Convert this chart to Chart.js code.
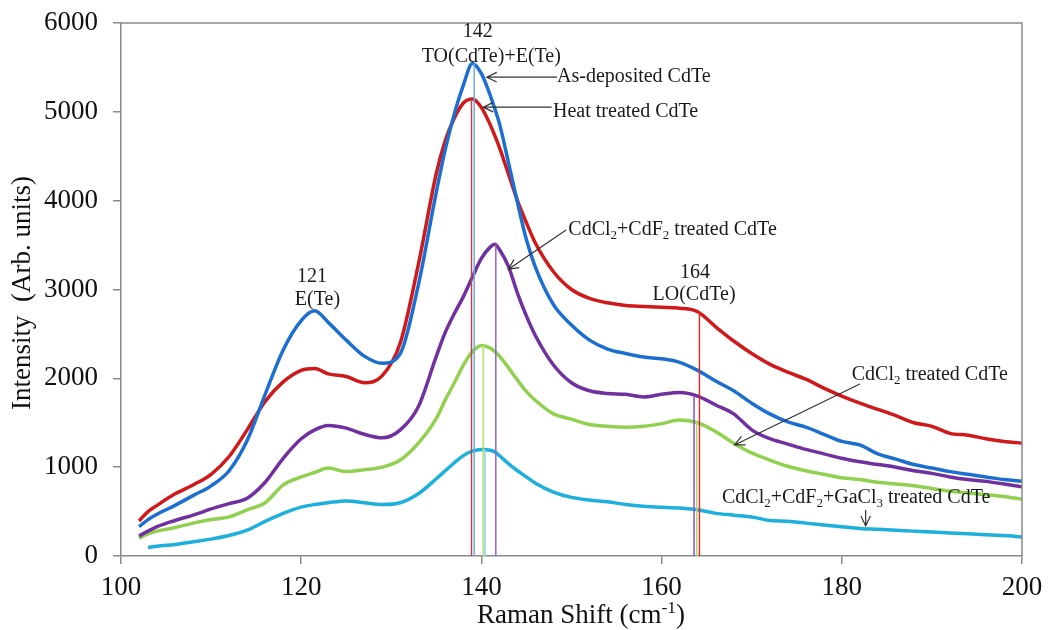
<!DOCTYPE html>
<html>
<head>
<meta charset="utf-8">
<script src="https://cdn.jsdelivr.net/npm/chart.js"></script>
<style>
  html, body { margin: 0; padding: 0; background: #fff; }
  #wrap { width: 1048px; height: 630px; }
</style>
</head>
<body>
<div id="wrap"><canvas id="raman" width="1048" height="630"></canvas></div>
<script>
// Raman spectra of CdTe films

const shift = [102, 103, 104, 106, 108, 110, 112, 114, 116, 118, 120, 121.5, 123, 125, 127, 129, 131, 133, 135, 136,
  137, 138, 139, 140, 141, 141.5, 142, 143, 144, 145, 146, 148, 150, 152, 154, 156, 158, 160, 162, 164,
  166, 168, 170, 172, 174, 176, 178, 180, 182, 184, 186, 188, 190, 192, 194, 196, 198, 200];

const asDeposited = [330, 410, 470, 570, 680, 790, 960, 1300, 1820, 2320, 2650, 2760, 2630, 2430, 2250, 2170, 2280, 3050, 4100, 4580,
  4980, 5300, 5545, 5430, 5180, 5030, 4870, 4430, 3980, 3560, 3250, 2830, 2600, 2430, 2330, 2280, 2240, 2220, 2180, 2090,
  1970, 1860, 1720, 1600, 1510, 1450, 1370, 1290, 1250, 1150, 1090, 1030, 990, 950, 920, 890, 860, 840];

const heatTreated = [395, 500, 570, 700, 800, 920, 1120, 1420, 1740, 1960, 2090, 2110, 2050, 2020, 1950, 2030, 2400, 3280, 4310, 4680,
  4930, 5100, 5145, 5050, 4850, 4730, 4600, 4300, 4000, 3750, 3520, 3200, 3000, 2900, 2850, 2820, 2810, 2800, 2790, 2750,
  2580, 2420, 2280, 2160, 2070, 1990, 1890, 1800, 1720, 1650, 1580, 1500, 1460, 1380, 1360, 1320, 1290, 1270];

const cdcl2Cdf2 = [225, 280, 330, 400, 460, 530, 590, 650, 830, 1100, 1320, 1420, 1470, 1440, 1370, 1330, 1420, 1680, 2250, 2520,
  2730, 2920, 3140, 3350, 3480, 3510, 3450, 3260, 2960, 2700, 2480, 2150, 1950, 1860, 1830, 1820, 1790, 1820, 1840, 1800,
  1700, 1600, 1420, 1320, 1260, 1200, 1150, 1100, 1060, 1030, 1000, 960, 930, 890, 860, 840, 810, 780];

const cdcl2 = [200, 250, 280, 320, 370, 410, 440, 520, 600, 800, 890, 940, 990, 950, 970, 1000, 1080, 1270, 1550, 1760,
  1950, 2150, 2300, 2370, 2340, 2300, 2250, 2120, 1980, 1850, 1750, 1600, 1540, 1480, 1460, 1450, 1460, 1490, 1530, 1500,
  1400, 1270, 1160, 1080, 1010, 960, 920, 880, 860, 830, 810, 790, 760, 730, 710, 690, 670, 640];

const cdcl2Cdf2Gacl3 = [null, 95, 110, 130, 160, 190, 230, 290, 390, 480, 550, 580, 600, 620, 600, 580, 600, 700, 870, 960,
  1050, 1130, 1180, 1200, 1190, 1170, 1130, 1040, 960, 890, 820, 720, 660, 630, 610, 580, 560, 550, 540, 520,
  480, 460, 440, 400, 390, 370, 350, 330, 310, 300, 290, 280, 270, 260, 250, 240, 230, 215];

// peak marker lines: position and height
const peakShift = [138.9, 139.2, 140.2, 140.4, 141.6, 163.6, 163.9, 164.2];
const peakTop = [5145, 5545, 2375, 1205, 3510, 1790, 1510, 2750];

const xTicks = [100, 120, 140, 160, 180, 200];
const yTicks = [0, 1000, 2000, 3000, 4000, 5000, 6000];

const serif = "'Liberation Serif', 'Times New Roman', serif";

const curveColors = ["#1C6FD0", "#D0191B", "#7030A0", "#92D050", "#1EB0DC"];
const markerColors = ["#B0484C", "#6FA8E8", "#B2E46C", "#86D4EE", "#9560CC", "#8B4FD0", "#A8DC6A", "#D83030"];

function pts(arr) {
  return shift.map((x, i) => ({ x: x, y: arr[i] }));
}

const curves = [asDeposited, heatTreated, cdcl2Cdf2, cdcl2, cdcl2Cdf2Gacl3];

const datasets = [];
peakShift.forEach((s, i) => {
  datasets.push({
    data: [{ x: s, y: 0 }, { x: s, y: peakTop[i] }],
    borderColor: markerColors[i],
    borderWidth: 1.5,
    pointRadius: 0,
    order: 1,
  });
});
curves.forEach((arr, i) => {
  datasets.push({
    data: pts(arr),
    borderColor: curveColors[i],
    borderWidth: 3.5,
    pointRadius: 0,
    cubicInterpolationMode: "monotone",
    order: 2,
  });
});

// annotation texts, positioned in data units
const notes = [
  { parts: [["142"]], x: 139.6, y: 5900, align: "center" },
  { parts: [["TO(CdTe)+E(Te)"]], x: 141.1, y: 5623, align: "center" },
  { parts: [["As-deposited CdTe"]], x: 148.4, y: 5394, align: "left" },
  { parts: [["Heat treated CdTe"]], x: 147.95, y: 5000, align: "left" },
  { parts: [["CdCl"], ["2", "sub"], ["+CdF"], ["2", "sub"], [" treated CdTe"]], x: 149.65, y: 3671, align: "left" },
  { parts: [["121"]], x: 121.2, y: 3145, align: "center" },
  { parts: [["E(Te)"]], x: 121.8, y: 2883, align: "center" },
  { parts: [["164"]], x: 163.7, y: 3183, align: "center" },
  { parts: [["LO(CdTe)"]], x: 163.6, y: 2939, align: "center" },
  { parts: [["CdCl"], ["2", "sub"], [" treated CdTe"]], x: 181.1, y: 2038, align: "left" },
  { parts: [["CdCl"], ["2", "sub"], ["+CdF"], ["2", "sub"], ["+GaCl"], ["3", "sub"], [" treated CdTe"]], x: 166.7, y: 653, align: "left" },
];

const arrows = [
  { x1: 148.4, y1: 5390, x2: 140.6, y2: 5390 },
  { x1: 147.8, y1: 5053, x2: 140.2, y2: 5053 },
  { x1: 149.4, y1: 3671, x2: 143.0, y2: 3229 },
  { x1: 182.0, y1: 1937, x2: 168.1, y2: 1250 },
  { x1: 182.65, y1: 518, x2: 182.65, y2: 338 },
];

function richWidth(ctx, parts, size) {
  let w = 0;
  parts.forEach((p) => {
    ctx.font = (p[1] ? size * 0.65 : size) + "px " + serif;
    w += ctx.measureText(p[0]).width;
  });
  return w;
}

function drawRich(ctx, parts, x, y, size, align) {
  let cx = align === "center" ? x - richWidth(ctx, parts, size) / 2 : x;
  ctx.textBaseline = "middle";
  ctx.textAlign = "left";
  parts.forEach((p) => {
    const s = p[1] ? size * 0.65 : size;
    ctx.font = s + "px " + serif;
    let dy = 0;
    if (p[1] === "sub") dy = size * 0.28;
    if (p[1] === "sup") dy = -size * 0.3;
    ctx.fillText(p[0], cx, y + dy);
    cx += ctx.measureText(p[0]).width;
  });
}

const annotate = {
  id: "annotate",
  afterDraw(chart) {
    const ctx = chart.ctx;
    const xs = chart.scales.x, ys = chart.scales.y;
    const area = chart.chartArea;
    ctx.save();
    // frame top and right
    ctx.strokeStyle = "#8a8a8a";
    ctx.lineWidth = 1.5;
    ctx.beginPath();
    ctx.moveTo(area.left, area.top);
    ctx.lineTo(area.right, area.top);
    ctx.lineTo(area.right, area.bottom);
    ctx.stroke();

    ctx.fillStyle = "#1a1a1a";
    notes.forEach((n) => {
      drawRich(ctx, n.parts, xs.getPixelForValue(n.x), ys.getPixelForValue(n.y), 20, n.align);
    });

    ctx.strokeStyle = "#333";
    ctx.lineWidth = 1.2;
    arrows.forEach((a) => {
      const x1 = xs.getPixelForValue(a.x1), y1 = ys.getPixelForValue(a.y1);
      const x2 = xs.getPixelForValue(a.x2), y2 = ys.getPixelForValue(a.y2);
      const ang = Math.atan2(y2 - y1, x2 - x1);
      const head = 11;
      ctx.beginPath();
      ctx.moveTo(x1, y1);
      ctx.lineTo(x2, y2);
      ctx.moveTo(x2 - head * Math.cos(ang - 0.45), y2 - head * Math.sin(ang - 0.45));
      ctx.lineTo(x2, y2);
      ctx.lineTo(x2 - head * Math.cos(ang + 0.45), y2 - head * Math.sin(ang + 0.45));
      ctx.stroke();
    });

    // axis titles
    ctx.fillStyle = "#111";
    const xt = [["Raman Shift (cm"], ["-1", "sup"], [")"]];
    drawRich(ctx, xt, 581, 616, 27, "center");

    ctx.translate(23, 293);
    ctx.rotate(-Math.PI / 2);
    drawRich(ctx, [["Intensity  (Arb. units)"]], 0, 0, 27, "center");
    ctx.restore();
  },
};

new Chart(document.getElementById("raman"), {
  type: "line",
  data: { datasets: datasets },
  options: {
    responsive: false,
    animation: false,
    layout: { padding: { left: 0, top: 23, right: 26, bottom: 0 } },
    plugins: { legend: { display: false }, tooltip: { enabled: false } },
    scales: {
      x: {
        type: "linear",
        min: 100,
        max: 200,
        afterBuildTicks: (s) => { s.ticks = xTicks.map((v) => ({ value: v })); },
        afterFit: (s) => { s.height = 74; s.paddingLeft = 0; s.paddingRight = 0; },
        grid: { drawOnChartArea: false, color: "#8a8a8a", tickLength: 8, lineWidth: 1.5 },
        border: { color: "#8a8a8a", width: 1.5 },
        ticks: { color: "#111", font: { family: serif, size: 27 }, padding: 8, callback: (v) => String(v) },
      },
      y: {
        min: 0,
        max: 6000,
        afterBuildTicks: (s) => { s.ticks = yTicks.map((v) => ({ value: v })); },
        afterFit: (s) => { s.width = 121; s.paddingTop = 0; s.paddingBottom = 0; },
        grid: { drawOnChartArea: false, color: "#8a8a8a", tickLength: 8, lineWidth: 1.5 },
        border: { color: "#8a8a8a", width: 1.5 },
        ticks: { color: "#111", font: { family: serif, size: 27 }, padding: 15, callback: (v) => String(v) },
      },
    },
  },
  plugins: [annotate],
});
</script>
</body>
</html>
